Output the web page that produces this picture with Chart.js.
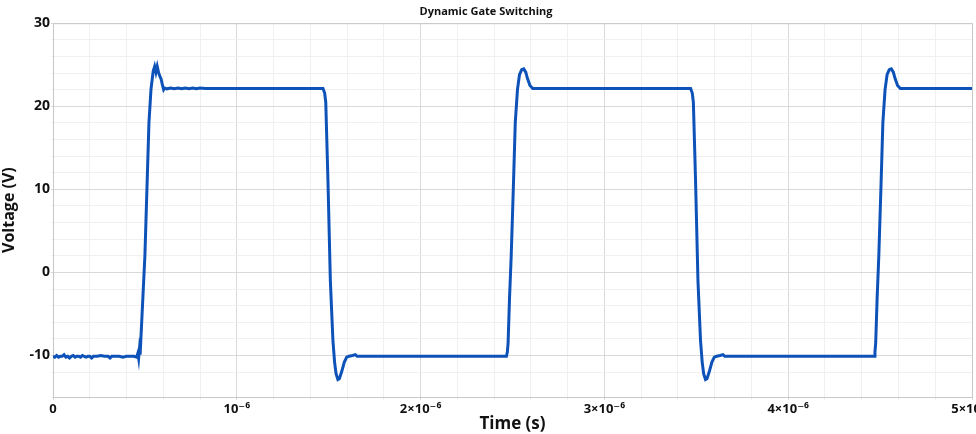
<!DOCTYPE html>
<html>
<head>
<meta charset="utf-8">
<script src="https://cdn.jsdelivr.net/npm/chart.js@4/dist/chart.umd.min.js"></script>
<style>
  html, body { margin: 0; padding: 0; background: #fff; }
  #wrap { width: 976px; height: 434px; }
</style>
</head>
<body>
<div id="wrap"><canvas id="gate-switching-chart" width="976" height="434"></canvas></div>
<script>
// time in microseconds, voltage in volts
const timeUs = [
  0, 0.01, 0.02, 0.03, 0.04, 0.05, 0.06, 0.07, 0.08, 0.09,
  0.10, 0.11, 0.12, 0.13, 0.14, 0.15, 0.16, 0.17, 0.18, 0.19,
  0.20, 0.21, 0.22, 0.24, 0.26, 0.28, 0.30, 0.31, 0.32, 0.34,
  0.36, 0.38, 0.40, 0.42, 0.44, 0.455, 0.462, 0.466, 0.470, 0.474,
  0.500, 0.522, 0.533, 0.545, 0.553, 0.560, 0.567, 0.575, 0.582, 0.588,
  0.595, 0.602, 0.608, 0.62, 0.64, 0.66, 0.68, 0.70, 0.72,
  0.74, 0.76, 0.78, 0.80, 0.83, 0.86, 0.90, 0.95, 1.00, 1.469,
  1.478, 1.484, 1.496, 1.509, 1.523, 1.532, 1.540, 1.550, 1.558, 1.570,
  1.585, 1.598, 1.610, 1.630, 1.645, 1.655, 2.467,
  2.472, 2.476, 2.484, 2.493, 2.505, 2.515, 2.527, 2.538, 2.550, 2.561,
  2.572, 2.582, 2.595, 2.610, 3.469,
  3.478, 3.484, 3.496, 3.509, 3.523, 3.532, 3.540, 3.550, 3.558, 3.570,
  3.585, 3.598, 3.610, 3.630, 3.645, 3.655, 4.467,
  4.472, 4.476, 4.484, 4.493, 4.505, 4.515, 4.527, 4.538, 4.550, 4.561,
  4.572, 4.582, 4.595, 4.610, 5.0
];
const voltage = [
  -10.1, -10.2, -10.0, -10.2, -10.1, -10.1, -9.9, -10.2, -10.1, -10.3,
  -10.1, -10.0, -10.2, -10.1, -10.1, -10.2, -10.0, -10.1, -10.2, -10.1,
  -10.1, -10.3, -10.1, -10.1, -10.0, -10.1, -10.1, -10.3, -10.1, -10.1,
  -10.1, -10.2, -10.1, -10.1, -10.1, -10.2, -9.7, -10.3, -9.3, -9.9,
  2.0, 18.0, 22.0, 24.2, 24.8, 24.1, 24.8, 24.0, 23.6, 23.3,
  22.6, 22.0, 22.2, 22.1, 22.2, 22.1, 22.2, 22.1, 22.2,
  22.1, 22.2, 22.1, 22.2, 22.15, 22.15, 22.15, 22.15, 22.15, 22.15,
  21.6, 20.5, 11.0, -1.0, -8.2, -10.8, -12.2, -12.9, -12.8, -12.0,
  -10.8, -10.2, -10.1, -10.0, -9.9, -10.1, -10.1,
  -9.6, -8.5, -3.0, 2.0, 10.5, 18.0, 22.0, 23.8, 24.4, 24.5,
  24.1, 23.3, 22.5, 22.15, 22.15,
  21.6, 20.5, 11.0, -1.0, -8.2, -10.8, -12.2, -12.9, -12.8, -12.0,
  -10.8, -10.2, -10.1, -10.0, -9.9, -10.1, -10.1,
  -9.6, -8.5, -3.0, 2.0, 10.5, 18.0, 22.0, 23.8, 24.4, 24.5,
  24.1, 23.3, 22.5, 22.15, 22.15
];

const xTickValues = [0, 1, 2, 3, 4, 5];
const xTickLabels = ['0', '10\u207B\u2076', '2\u00D710\u207B\u2076', '3\u00D710\u207B\u2076', '4\u00D710\u207B\u2076', '5\u00D710\u207B\u2076'];
const yTickValues = [-10, 0, 10, 20, 30];
const yTickLabels = ['-10', '0', '10', '20', '30'];

const points = timeUs.map((t, i) => ({ x: t, y: voltage[i] }));

const majorGrid = '#d9d9d9';
const minorGrid = '#f0f0f0';
const textColor = '#111';
const fontName = "'Open Sans', 'DejaVu Sans', sans-serif";

const ctx = document.getElementById('gate-switching-chart').getContext('2d');

const gateChart = new Chart(ctx, {
    type: 'line',
    data: {
        datasets: [
            {
                label: 'Gate voltage',
                data: points,
                borderColor: '#0d52b8',
                backgroundColor: '#0d52b8',
                borderWidth: 3,
                pointRadius: 0,
                fill: false,
                tension: 0
            }
        ]
    },
    options: {
        responsive: false,
        animation: false,
        layout: {
            padding: { left: 0, right: 4, top: 0, bottom: 0 }
        },
        plugins: {
            legend: { display: false },
            tooltip: { enabled: false },
            title: {
                display: true,
                text: 'Dynamic Gate Switching',
                color: textColor,
                font: { family: fontName, size: 11, weight: 'bold' },
                padding: { top: 5, bottom: 5 }
            }
        },
        scales: {
            x: {
                type: 'linear',
                min: 0,
                max: 5,
                border: { display: true, color: '#c8c8c8', width: 1 },
                grid: {
                    drawTicks: true,
                    tickLength: 3,
                    color: (c) => xTickValues.includes(Math.round(c.tick.value * 100) / 100) ? majorGrid : minorGrid
                },
                ticks: {
                    stepSize: 0.2,
                    autoSkip: false,
                    maxRotation: 0,
                    padding: 1,
                    color: textColor,
                    font: { family: fontName, size: 13, weight: 'bold' },
                    callback: (v) => {
                        const i = xTickValues.indexOf(Math.round(v * 100) / 100);
                        return i >= 0 ? xTickLabels[i] : '';
                    }
                },
                title: {
                    display: true,
                    text: 'Time (s)',
                    color: textColor,
                    font: { family: fontName, size: 17, weight: 'bold' },
                    padding: { top: 0, bottom: 0 }
                },
                afterFit: (scale) => {
                    scale.height = 37;
                    scale.paddingLeft = 0;
                    scale.paddingRight = 0;
                }
            },
            y: {
                min: -15,
                max: 30,
                border: { display: true, color: '#c8c8c8', width: 1 },
                grid: {
                    drawTicks: true,
                    tickLength: 2,
                    color: (c) => yTickValues.includes(c.tick.value) ? majorGrid : minorGrid
                },
                ticks: {
                    stepSize: 2,
                    autoSkip: false,
                    padding: 1,
                    color: textColor,
                    font: { family: fontName, size: 14, weight: 'bold' },
                    callback: (v) => {
                        const i = yTickValues.indexOf(v);
                        return i >= 0 ? yTickLabels[i] : '';
                    }
                },
                title: {
                    display: true,
                    text: 'Voltage (V)',
                    color: textColor,
                    font: { family: fontName, size: 16, weight: 'bold' },
                    padding: { top: 0, bottom: 2 }
                },
                afterFit: (scale) => {
                    scale.width = 53;
                    scale.paddingTop = 0;
                    scale.paddingBottom = 0;
                }
            }
        }
    },
    plugins: [{
        // box line along the top and right of the plot area
        id: 'frame',
        afterDraw(chart) {
            const a = chart.chartArea;
            const c = chart.ctx;
            c.save();
            c.strokeStyle = '#c8c8c8';
            c.lineWidth = 1;
            c.beginPath();
            c.moveTo(a.left, a.top + 0.5);
            c.lineTo(a.right + 0.5, a.top + 0.5);
            c.lineTo(a.right + 0.5, a.bottom);
            c.stroke();
            c.restore();
        }
    }]
});
</script>
</body>
</html>
